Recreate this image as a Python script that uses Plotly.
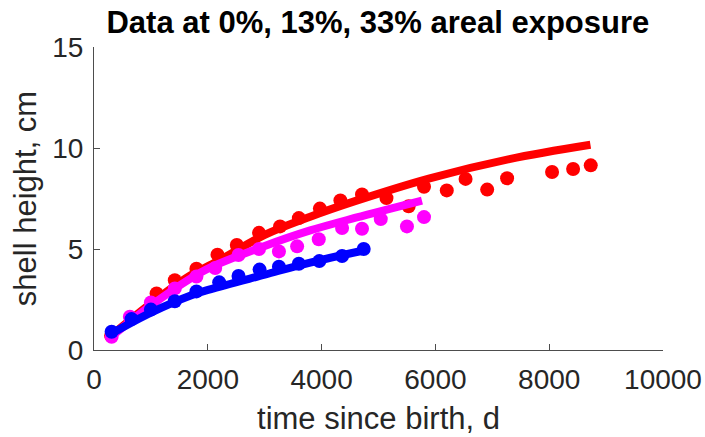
import plotly.graph_objects as go

# Observed shell heights (cm) vs time since birth (d) at three exposure levels
t_0 = [300, 650, 1100, 1420, 1800, 2170, 2510, 2900, 3270, 3600, 3970, 4330, 4710,
       5140, 5530, 5800, 6200, 6530, 6910, 7260, 8050, 8420, 8730]
h_0 = [0.7, 1.6, 2.8, 3.45, 4.02, 4.72, 5.2, 5.8, 6.12, 6.53, 7.0, 7.4, 7.7,
       7.52, 7.12, 8.08, 7.9, 8.47, 7.94, 8.5, 8.81, 8.96, 9.14]

t_13 = [310, 630, 1000, 1420, 1800, 2130, 2540, 2900, 3250, 3570, 3950, 4360, 4710,
        5040, 5500, 5800]
h_13 = [0.65, 1.65, 2.35, 3.05, 3.64, 4.06, 4.7, 5.0, 4.88, 5.13, 5.48, 6.04, 6.0,
        6.48, 6.12, 6.58]

t_33 = [310, 660, 1000, 1420, 1800, 2200, 2540, 2910, 3250, 3600, 3960, 4360, 4740]
h_33 = [0.9, 1.53, 2.0, 2.41, 2.9, 3.35, 3.66, 3.98, 4.12, 4.27, 4.4, 4.65, 5.0]

# Fitted growth curves
fit_t_0 = [300, 1000, 1700, 2040, 2275, 3000, 3800, 4600, 5900, 7300, 8725]
fit_h_0 = [0.7, 2.3, 3.7, 4.2, 4.55, 5.7, 6.6, 7.38, 8.5, 9.45, 10.16]

fit_t_13 = [300, 1000, 1700, 2040, 3000, 3800, 4600, 5764]
fit_h_13 = [0.65, 2.2, 3.55, 4.08, 5.15, 5.92, 6.55, 7.4]

fit_t_33 = [300, 1000, 1700, 2040, 3000, 3800, 4700]
fit_h_33 = [0.8, 1.85, 2.7, 3.0, 3.73, 4.33, 4.9]

x_ticks = [0, 2000, 4000, 6000, 8000, 10000]
y_ticks = [0, 5, 10, 15]

RED, MAGENTA, BLUE = "#ff0000", "#ff00ff", "#0000ff"
MARKER_SIZE = 14
LINE_W = 8
FONT = "Liberation Sans, Arial, sans-serif"

fig = go.Figure()
for t, h, ft, fh, c in [
    (t_0, h_0, fit_t_0, fit_h_0, RED),
    (t_13, h_13, fit_t_13, fit_h_13, MAGENTA),
    (t_33, h_33, fit_t_33, fit_h_33, BLUE),
]:
    fig.add_trace(go.Scatter(x=t, y=h, mode="markers",
                             marker=dict(color=c, size=MARKER_SIZE, line=dict(width=0)),
                             showlegend=False))
    fig.add_trace(go.Scatter(x=ft, y=fh, mode="lines",
                             line=dict(color=c, width=LINE_W, shape="spline", smoothing=1.0),
                             showlegend=False))

axis_common = dict(
    showgrid=False, zeroline=False, showline=True, linecolor="#4d4d4d", linewidth=1,
    ticks="inside", ticklen=6, tickcolor="#4d4d4d", tickwidth=1,
    tickfont=dict(family=FONT, size=28, color="#262626"),
    mirror=False, automargin=False,
)

fig.update_layout(
    width=705, height=437,
    margin=dict(l=94, r=42, t=47, b=87),
    paper_bgcolor="white", plot_bgcolor="white",
    title=dict(text="<b>Data at 0%, 13%, 33% areal exposure</b>",
               x=0.536, xanchor="center", y=0.95, yanchor="middle",
               font=dict(family=FONT, size=31, color="black")),
    xaxis=dict(range=[0, 10000], tickvals=x_ticks, ticktext=[str(v) for v in x_ticks],
               ticklabelstandoff=4,
               title=dict(text="time since birth, d", standoff=13,
                          font=dict(family=FONT, size=31, color="#262626")),
               **axis_common),
    yaxis=dict(range=[0, 15], tickvals=y_ticks, ticktext=[str(v) for v in y_ticks],
               ticklabelstandoff=4,
               title=dict(text="shell height, cm", standoff=6,
                          font=dict(family=FONT, size=31, color="#262626")),
               **axis_common),
)

fig.write_html("out.html")
